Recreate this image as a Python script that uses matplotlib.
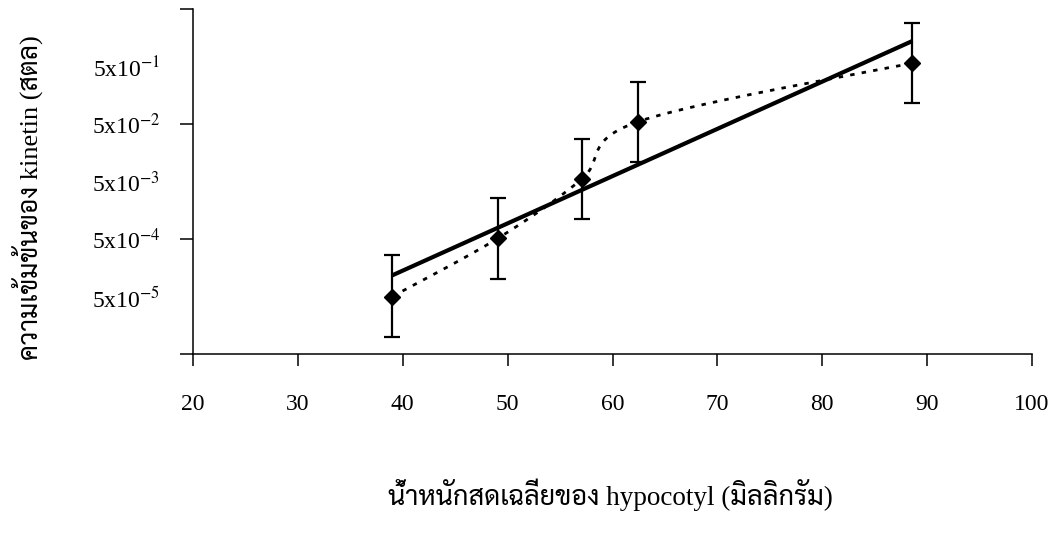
import matplotlib
matplotlib.use("Agg")
import matplotlib.pyplot as plt
import numpy as np

plt.rcParams.update({
    "font.family": ["Liberation Serif", "Sarabun"],
    "mathtext.fontset": "stix",
    "axes.linewidth": 1.1,
})

# data
weight = np.array([39.0, 49.1, 57.05, 62.4, 88.6])          # mg
kinetin = np.array([5e-5, 5.2e-4, 5.5e-3, 5.5e-2, 5.8e-1])  # concentration
err_lo = np.array([1e-5, 1.0e-4, 1.1e-3, 1.1e-2, 1.15e-1])
err_hi = np.array([2.6e-4, 2.6e-3, 2.75e-2, 2.75e-1, 2.9])

ytick_vals = [5e-5, 5e-4, 5e-3, 5e-2, 5e-1]
ytick_text = ["5x10$^{-5}$", "5x10$^{-4}$", "5x10$^{-3}$", "5x10$^{-2}$", "5x10$^{-1}$"]
ymarks = [5e-6, 5e-4, 5e-2, 5]
xtick_vals = [20, 30, 40, 50, 60, 70, 80, 90, 100]

XLABEL = "น้ำหนักสดเฉลี่ยของ hypocotyl (มิลลิกรัม)"
YLABEL = "ความเข้มข้นของ kinetin (สตล)"

fig = plt.figure(figsize=(10.56, 5.35), dpi=100)
ax = fig.add_axes([193/1056, 1 - 354/535, (1032 - 193)/1056, (354 - 9.3)/535])

# smoothed dotted line (excel style bezier, in x / log y space)
px, py = weight, np.log10(kinetin)
n = len(px)
cx, cy = [], []
t = np.linspace(0, 1, 40)
for i in range(n - 1):
    a = max(i - 1, 0)
    b = min(i + 2, n - 1)
    p0 = np.array([px[i], py[i]])
    p3 = np.array([px[i + 1], py[i + 1]])
    p1 = p0 + (p3 - np.array([px[a], py[a]])) / 6
    p2 = p3 - (np.array([px[b], py[b]]) - p0) / 6
    seg = ((1 - t) ** 3)[:, None] * p0 + (3 * (1 - t) ** 2 * t)[:, None] * p1 \
        + (3 * (1 - t) * t ** 2)[:, None] * p2 + (t ** 3)[:, None] * p3
    cx.extend(seg[:, 0])
    cy.extend(seg[:, 1])
ax.plot(cx, 10 ** np.array(cy), color="black", lw=2.0,
        linestyle=(0, (1.6, 2.6)), zorder=3)

# log-linear trend line
slope, icpt = np.polyfit(weight, np.log10(kinetin), 1)
xf = np.array([weight.min(), weight.max()])
ax.plot(xf, 10 ** (icpt + slope * xf), color="black", lw=3.0,
        solid_capstyle="butt", zorder=4)

ax.errorbar(weight, kinetin, yerr=[kinetin - err_lo, err_hi - kinetin],
            fmt="none", ecolor="black", elinewidth=1.6, capsize=5.5,
            capthick=1.6, zorder=5)
ax.plot(weight, kinetin, linestyle="none", marker="D", markersize=8.5,
        color="black", zorder=6)

ax.set_yscale("log")
ax.set_xlim(20, 100)
ax.set_ylim(5e-6, 5)

# x ticks
ax.set_xticks(xtick_vals)
ax.set_xticklabels([str(v) for v in xtick_vals], fontsize=17)
ax.tick_params(axis="x", which="major", direction="out", length=8.6,
               width=1.1, pad=20)

# y: labels on major (no mark), marks every two decades on minor
ax.yaxis.remove_overlapping_locs = False
ax.set_yticks(ytick_vals, ytick_text, fontsize=17)
ax.set_yticks(ymarks, [""] * len(ymarks), minor=True)
ax.tick_params(axis="y", which="major", length=0, pad=23.5)
ax.tick_params(axis="y", which="minor", direction="out", length=9.4, width=1.1)

for s in ["top", "right"]:
    ax.spines[s].set_visible(False)

fig.text(27/1056, 1 - 198/535, YLABEL, rotation=90, ha="center", va="center",
         fontsize=19)
fig.text(610/1056, 1 - 495/535, XLABEL, ha="center", va="center", fontsize=19.5)

fig.savefig("out.png", dpi=100)
